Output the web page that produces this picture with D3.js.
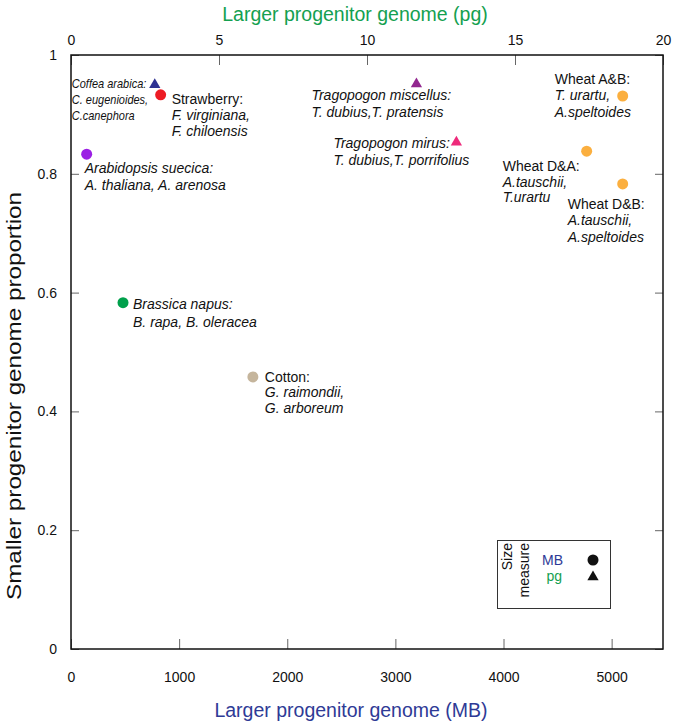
<!DOCTYPE html>
<html>
<head>
<meta charset="utf-8">
<script src="https://cdn.jsdelivr.net/npm/d3@7/dist/d3.min.js"></script>
<style>
  html, body { margin: 0; padding: 0; background: #fff; }
  svg { display: block; font-family: "Liberation Sans", Arial, sans-serif; }
</style>
</head>
<body>
<svg id="chart" width="673" height="722"></svg>
<script>
// ---------------- data ----------------
const circleNames = ["Strawberry", "Arabidopsis suecica", "Brassica napus", "Cotton", "Wheat A&B", "Wheat D&A", "Wheat D&B"];
const circleMB    = [829, 145, 481, 1682, 5102, 4769, 5102];
const circleProp  = [0.933, 0.833, 0.583, 0.458, 0.931, 0.838, 0.783];

const triangleNames = ["Coffea arabica", "Tragopogon miscellus", "Tragopogon mirus"];
const trianglePg    = [2.83, 11.67, 13.02];
const triangleProp  = [0.950, 0.951, 0.853];

const mbTicks   = [0, 1000, 2000, 3000, 4000, 5000];
const pgTicks   = [0, 5, 10, 15, 20];
const propTicks = [0, 0.2, 0.4, 0.6, 0.8, 1];

const labelLines = {
  "Strawberry":           ["Strawberry:", "F. virginiana,", "F. chiloensis"],
  "Arabidopsis suecica":  ["Arabidopsis suecica:", "A. thaliana, A. arenosa"],
  "Brassica napus":       ["Brassica napus:", "B. rapa, B. oleracea"],
  "Cotton":               ["Cotton:", "G. raimondii,", "G. arboreum"],
  "Wheat A&B":            ["Wheat A&B:", "T. urartu,", "A.speltoides"],
  "Wheat D&A":            ["Wheat D&A:", "A.tauschii,", "T.urartu"],
  "Wheat D&B":            ["Wheat D&B:", "A.tauschii,", "A.speltoides"],
  "Coffea arabica":       ["Coffea arabica:", "C. eugenioides,", "C.canephora"],
  "Tragopogon miscellus": ["Tragopogon miscellus:", "T. dubius,T. pratensis"],
  "Tragopogon mirus":     ["Tragopogon mirus:", "T. dubius,T. porrifolius"]
};
// common-name headers are upright, all other lines italic
const uprightHeaders = ["Strawberry", "Cotton", "Wheat A&B", "Wheat D&A", "Wheat D&B"];

// ---------------- styling / layout (not data) ----------------
const colors = {
  "Strawberry": "#ed1c24", "Arabidopsis suecica": "#9b1fe4", "Brassica napus": "#00a04b",
  "Cotton": "#c5b59c", "Wheat A&B": "#fbaf3f", "Wheat D&A": "#fbaf3f", "Wheat D&B": "#fbaf3f",
  "Coffea arabica": "#2e3192", "Tragopogon miscellus": "#92278f", "Tragopogon mirus": "#ee2a7b"
};
// label offset from marker: [dx, dy of first baseline, line height, font size, horizontal scale]
const labelOffset = {
  "Strawberry":           [11, 9, 16, 14, 1],
  "Arabidopsis suecica":  [-2, 19, 17, 14, 1],
  "Brassica napus":       [10, 6, 18, 14, 1],
  "Cotton":               [12, 5, 15.5, 14, 1],
  "Wheat A&B":            [-68, -12, 16.5, 14, 1],
  "Wheat D&A":            [-84, 20, 15.5, 14, 1],
  "Wheat D&B":            [-55, 25, 16.5, 14, 1],
  "Coffea arabica":       [-83, 3, 16, 12.8, 0.86],
  "Tragopogon miscellus": [-105, 16, 17, 14, 1],
  "Tragopogon mirus":     [-123, 6, 17, 14, 1]
};

const L = 71, R = 663, T = 55, B = 649;
const svg = d3.select("#chart");

const xMB = d3.scaleLinear().domain([0, 5475]).range([L, R]);
const xPg = d3.scaleLinear().domain([0, 20]).range([L, R]);
const y   = d3.scaleLinear().domain([0, 1]).range([B, T]);

function styleAxis(g) {
  g.select(".domain").remove();
  g.selectAll(".tick line").attr("stroke", "#666").attr("stroke-width", 1);
  g.selectAll(".tick text").attr("fill", "#111").style("font-size", "14px")
    .style("font-family", "'Liberation Sans', Arial, sans-serif");
}

svg.append("g").attr("transform", `translate(0,${B})`)
  .call(d3.axisBottom(xMB).tickValues(mbTicks).tickSizeInner(-10).tickSizeOuter(0).tickPadding(23).tickFormat(d3.format("d")))
  .call(styleAxis);
svg.append("g").attr("transform", `translate(0,${T})`)
  .call(d3.axisTop(xPg).tickValues(pgTicks).tickSizeInner(-10).tickSizeOuter(0).tickPadding(10).tickFormat(d3.format("d")))
  .call(styleAxis);
svg.append("g").attr("transform", `translate(${L},0)`)
  .call(d3.axisLeft(y).tickValues(propTicks).tickSizeInner(-8).tickSizeOuter(0).tickPadding(14).tickFormat(d => d === 0 || d === 1 ? d3.format("d")(d) : d3.format(".1f")(d)))
  .call(styleAxis);
svg.append("g").attr("transform", `translate(${R},0)`)
  .call(d3.axisRight(y).tickValues(propTicks).tickSizeInner(-8).tickSizeOuter(0).tickFormat(""))
  .call(styleAxis);

// frame
svg.append("rect").attr("x", L).attr("y", T).attr("width", R - L).attr("height", B - T)
  .attr("fill", "none").attr("stroke", "#111").attr("stroke-width", 1.5);

// axis titles
svg.append("text").attr("x", 355).attr("y", 21).attr("text-anchor", "middle")
  .attr("fill", "#14a050").style("font-size", "19.5px").text("Larger progenitor genome (pg)");
svg.append("text").attr("x", 351).attr("y", 717).attr("text-anchor", "middle")
  .attr("fill", "#2e3a96").style("font-size", "19.5px").text("Larger progenitor genome (MB)");
svg.append("text").attr("transform", "translate(21,396) rotate(-90)").attr("text-anchor", "middle")
  .attr("fill", "#111").style("font-size", "20px")
  .attr("textLength", 408).attr("lengthAdjust", "spacingAndGlyphs")
  .text("Smaller progenitor genome proportion");

// markers
const circles = circleNames.map((n, i) => ({ name: n, px: xMB(circleMB[i]), py: y(circleProp[i]) }));
const tris = triangleNames.map((n, i) => ({ name: n, px: xPg(trianglePg[i]), py: y(triangleProp[i]) }));

svg.append("g").selectAll("circle").data(circles).join("circle")
  .attr("cx", d => d.px).attr("cy", d => d.py).attr("r", 5.5).attr("fill", d => colors[d.name]);
svg.append("g").selectAll("path").data(tris).join("path")
  .attr("d", d3.symbol(d3.symbolTriangle, 55))
  .attr("transform", d => `translate(${d.px},${d.py})`).attr("fill", d => colors[d.name]);

// labels
const allPts = circles.concat(tris);
allPts.forEach(d => {
  const [dx, dy, lh, fs, sx] = labelOffset[d.name];
  const t = svg.append("text")
    .attr("transform", `translate(${d.px + dx},${d.py + dy}) scale(${sx},1)`)
    .style("font-size", fs + "px").attr("fill", "#111");
  labelLines[d.name].forEach((line, j) => {
    const upright = j === 0 && uprightHeaders.includes(d.name);
    t.append("tspan").attr("x", 0).attr("y", j * lh)
      .style("font-style", upright ? "normal" : "italic").text(line);
  });
});

// legend
const lg = svg.append("g");
lg.append("rect").attr("x", 497.5).attr("y", 540.5).attr("width", 113).attr("height", 68)
  .attr("fill", "#fff").attr("stroke", "#333").attr("stroke-width", 1);
lg.append("text").attr("transform", "translate(512,543) rotate(-90)").attr("text-anchor", "end")
  .style("font-size", "14px").attr("fill", "#111").text("Size");
lg.append("text").attr("transform", "translate(529,543) rotate(-90)").attr("text-anchor", "end")
  .style("font-size", "14px").attr("fill", "#111").text("measure");
lg.append("text").attr("x", 563).attr("y", 565).attr("text-anchor", "end")
  .style("font-size", "14px").attr("fill", "#2e3a96").text("MB");
lg.append("text").attr("x", 562).attr("y", 581).attr("text-anchor", "end")
  .style("font-size", "14px").attr("fill", "#14a050").text("pg");
lg.append("circle").attr("cx", 593).attr("cy", 560).attr("r", 5.5).attr("fill", "#111");
lg.append("path").attr("d", d3.symbol(d3.symbolTriangle, 55)).attr("transform", "translate(593,577)").attr("fill", "#111");
</script>
</body>
</html>
